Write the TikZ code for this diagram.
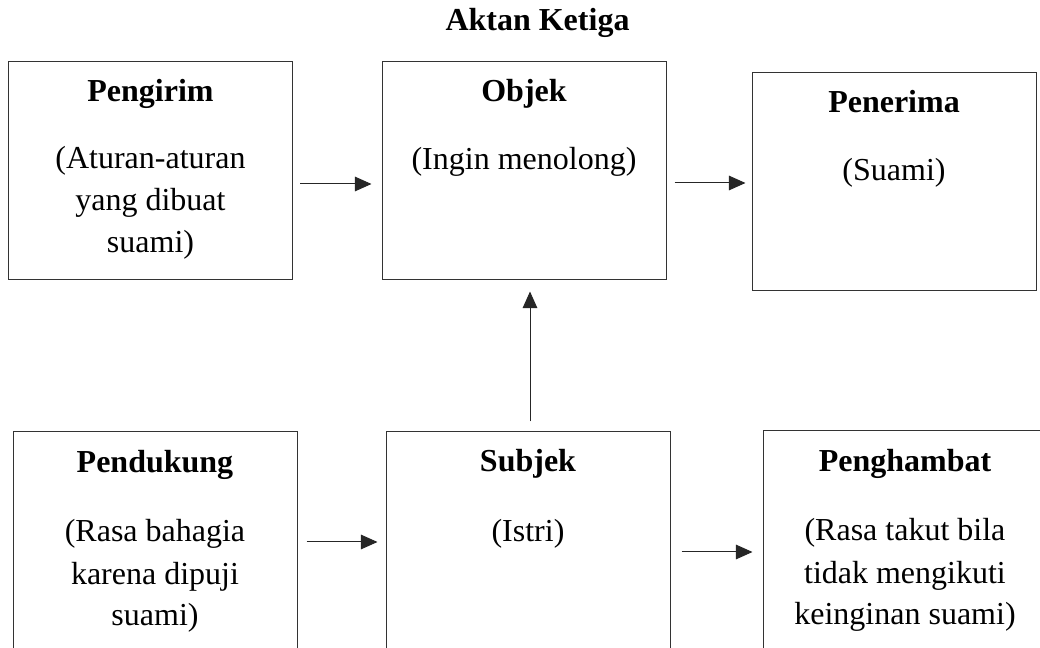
\documentclass[tikz,border=0pt]{standalone}
\usepackage{fontspec}
\setmainfont{Liberation Serif}
\usetikzlibrary{arrows.meta,calc}
\begin{document}
\begin{tikzpicture}[x=0.75pt,y=-0.75pt,
  box/.style={draw=black!80,line width=0.75pt,inner sep=0pt,
    minimum width=213pt,minimum height=163.5pt},
  head/.style={font=\fontsize{24}{31.5}\selectfont\bfseries,anchor=base,inner sep=0pt},
  body/.style={font=\fontsize{24}{31.5}\selectfont,align=center,anchor=base,inner sep=0pt},
  arr/.style={draw=black!85,line width=0.75pt,-{Triangle[length=12.5pt,width=11pt]}}]
\useasboundingbox (0,0) rectangle (1040,648);
\clip (0,0) rectangle (1040,648);

% title
\node[head] (title) at (537.5,31) {Aktan Ketiga};

% upper row (body nodes are placed by the baseline of their last line)
\node[box] (pengirim) at (150.5,171) {};
\node[head] (pengirimH) at (150.5,102) {Pengirim};
\node[body] (pengirimB) at (150.5,253) {(Aturan-aturan\\yang dibuat\\suami)};

\node[box] (objek) at (524,171) {};
\node[head] (objekH) at (524,102) {Objek};
\node[body] (objekB) at (524,170) {(Ingin menolong)};

\node[box] (penerima) at (894,181.5) {};
\node[head] (penerimaH) at (894,113) {Penerima};
\node[body] (penerimaB) at (894,181) {(Suami)};

% lower row
\node[box] (pendukung) at (155,541) {};
\node[head] (pendukungH) at (155,473) {Pendukung};
\node[body] (pendukungB) at (155,626) {(Rasa bahagia\\karena dipuji\\suami)};

\node[box] (subjek) at (528,541) {};
\node[head] (subjekH) at (528,472) {Subjek};
\node[body] (subjekB) at (528,542) {(Istri)};

\node[box] (penghambat) at (905,540) {};
\node[head] (penghambatH) at (905,472) {Penghambat};
\node[body] (penghambatB) at (905,625) {(Rasa takut bila\\tidak mengikuti\\keinginan suami)};

% connectors
\draw[arr] ($(pengirim.east)+(7,13)$) -- ($(objek.west)+(-10,13)$);
\draw[arr] ($(objek.east)+(8,12)$) -- ($(penerima.west)+(-6,1.5)$);
\draw[arr] ($(subjek.north)+(2,-10)$) -- ($(objek.south)+(6,11)$);
\draw[arr] ($(pendukung.east)+(9,1)$) -- ($(subjek.west)+(-8,1)$);
\draw[arr] ($(subjek.east)+(11,11)$) -- ($(penghambat.west)+(-10,12)$);
\end{tikzpicture}
\end{document}
